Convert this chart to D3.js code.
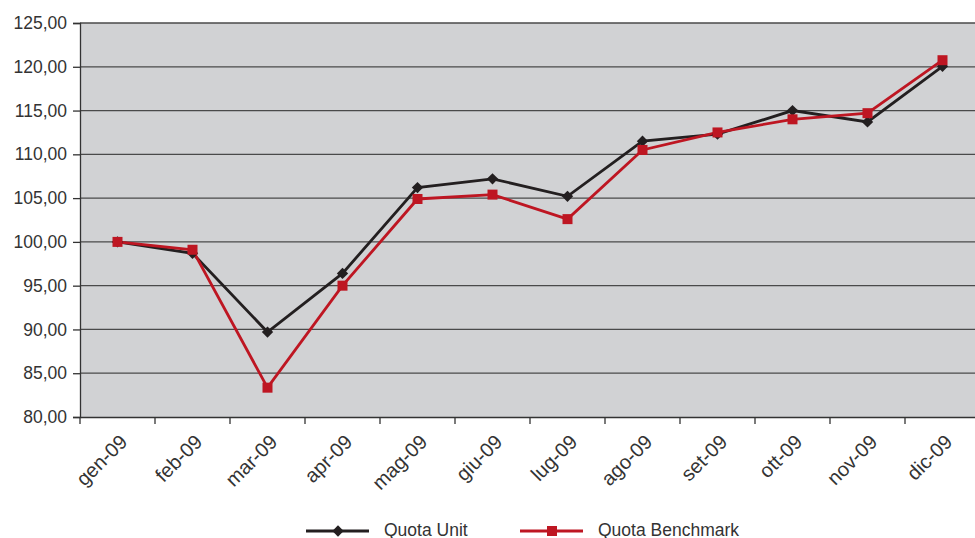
<!DOCTYPE html>
<html><head><meta charset="utf-8">
<script src="https://cdn.jsdelivr.net/npm/d3@7"></script>
<style>
html,body{margin:0;padding:0;background:#fff;}
svg{display:block;font-family:"Liberation Sans",Arial,sans-serif;}
</style></head>
<body><svg id="chart" width="975" height="538"></svg>
<script>
const categories = ["gen-09","feb-09","mar-09","apr-09","mag-09","giu-09","lug-09","ago-09","set-09","ott-09","nov-09","dic-09"];
const quotaUnit = [100.0, 98.7, 89.7, 96.4, 106.2, 107.2, 105.2, 111.5, 112.3, 115.0, 113.7, 120.05];
const quotaBenchmark = [100.0, 99.1, 83.35, 95.0, 104.9, 105.4, 102.6, 110.5, 112.5, 114.0, 114.7, 120.75];
const yTicks = [80,85,90,95,100,105,110,115,120,125];
const seriesNames = ["Quota Unit","Quota Benchmark"];

const svg = d3.select("#chart");
const x = d3.scaleBand().domain(categories).range([80, 980]);
const y = d3.scaleLinear().domain([80,125]).range([417, 23]);
const fmt = v => d3.format(".2f")(v).replace(".", ",");

// background
svg.append("rect").attr("x",80).attr("y",y(125)).attr("width",900).attr("height",y(80)-y(125)).attr("fill","#d1d2d4");

// grid
svg.append("g").selectAll("line").data(yTicks.filter(d=>d>80)).join("line")
  .attr("x1",80).attr("x2",980).attr("y1",d=>y(d)).attr("y2",d=>y(d))
  .attr("stroke","#4a4a4a").attr("stroke-width",1.3);

// y axis
const yAxis = svg.append("g").attr("transform","translate(80,0)")
  .call(d3.axisLeft(y).tickValues(yTicks).tickFormat(fmt).tickSize(7).tickPadding(6));
yAxis.select(".domain").attr("stroke","#333").attr("stroke-width",1.3);
yAxis.selectAll(".tick line").attr("stroke","#333").attr("stroke-width",1.3);
yAxis.selectAll("text").attr("fill","#333").style("font-size","17.5px").style("font-family","'Liberation Sans',Arial,sans-serif");

// x axis
const xAxis = svg.append("g").attr("transform","translate(0,417)")
  .call(d3.axisBottom(x).tickSize(0).tickFormat(""));
xAxis.select(".domain").attr("stroke","#333").attr("stroke-width",1.5);
const bounds = categories.map(c => x(c)).concat([x(categories[categories.length-1]) + x.bandwidth()]);
svg.append("g").selectAll("line").data(bounds).join("line")
  .attr("x1",d=>d).attr("x2",d=>d).attr("y1",417).attr("y2",424)
  .attr("stroke","#333").attr("stroke-width",1.3);
svg.append("g").selectAll("text").data(categories).join("text")
  .attr("transform", d => `translate(${x(d)+x.bandwidth()/2+1},433) rotate(-45)`)
  .attr("text-anchor","end").attr("dy","0.71em")
  .attr("fill","#333").style("font-size","20px")
  .text(d=>d);

const line = d3.line().x((d,i)=>x(categories[i])+x.bandwidth()/2).y(d=>y(d));
const black = "#231f20", red = "#be1622";

svg.append("path").datum(quotaUnit).attr("d",line).attr("fill","none").attr("stroke",black).attr("stroke-width",2.8);
svg.append("path").datum(quotaBenchmark).attr("d",line).attr("fill","none").attr("stroke",red).attr("stroke-width",2.8);

const diamond = d3.symbol().type(d3.symbolSquare).size(64);
svg.append("g").selectAll("path").data(quotaUnit).join("path")
  .attr("d",diamond())
  .attr("transform",(d,i)=>`translate(${x(categories[i])+x.bandwidth()/2},${y(d)}) rotate(45)`)
  .attr("fill",black);
svg.append("g").selectAll("rect").data(quotaBenchmark).join("rect")
  .attr("x",(d,i)=>x(categories[i])+x.bandwidth()/2-5).attr("y",d=>y(d)-5)
  .attr("width",10).attr("height",10).attr("fill",red);

// legend
const lg = svg.append("g");
lg.append("line").attr("x1",306).attr("x2",369).attr("y1",531).attr("y2",531).attr("stroke",black).attr("stroke-width",2.8);
lg.append("path").attr("d",diamond()).attr("transform","translate(338,531) rotate(45)").attr("fill",black);
lg.append("text").attr("x",384).attr("y",535.5).attr("fill","#333").style("font-size","17.5px").text(seriesNames[0]);
lg.append("line").attr("x1",520).attr("x2",583).attr("y1",531).attr("y2",531).attr("stroke",red).attr("stroke-width",2.8);
lg.append("rect").attr("x",547).attr("y",526).attr("width",10).attr("height",10).attr("fill",red);
lg.append("text").attr("x",598).attr("y",535.5).attr("fill","#333").style("font-size","17.5px").text(seriesNames[1]);
</script></body></html>
